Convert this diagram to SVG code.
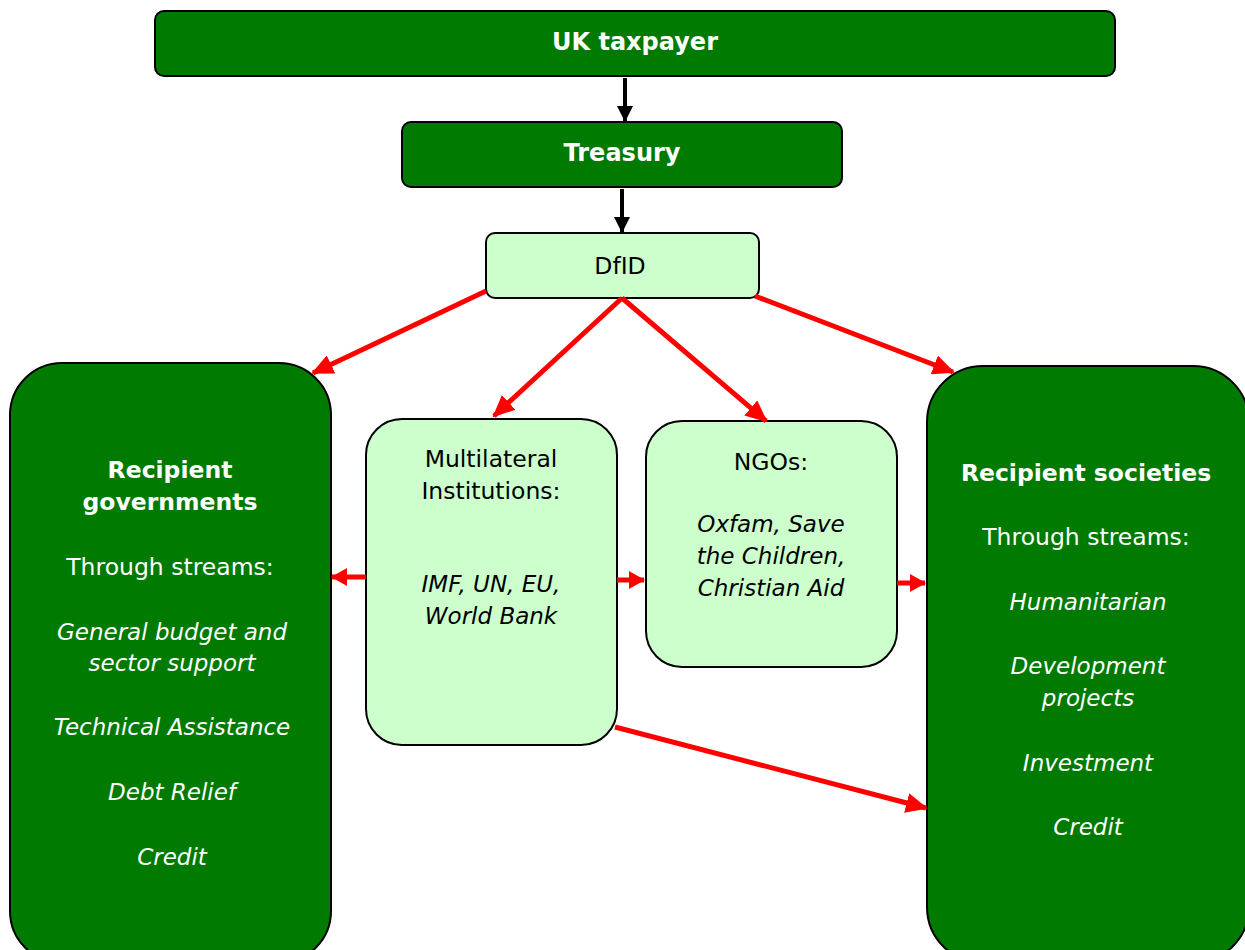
<svg xmlns="http://www.w3.org/2000/svg" width="1245" height="950" viewBox="0 0 1245 950">
<defs>
<style>
.dark{fill:#007A00;stroke:#000;stroke-width:2}
.light{fill:#CCFFCC;stroke:#000;stroke-width:2}
text{font-family:"DejaVu Sans","Liberation Sans",sans-serif;text-anchor:middle;font-size:23.5px}
.w{fill:#fff}
.k{fill:#000}
.b{font-weight:bold}
.i{font-style:italic;font-size:23px}
.red{stroke:#FF0000;stroke-width:5;fill:none}
.blk{stroke:#000;stroke-width:4;fill:none}
</style>
<marker id="rh" markerUnits="userSpaceOnUse" markerWidth="22" markerHeight="20" refX="20" refY="10" orient="auto">
<path d="M0,0 L22,10 L0,20 z" fill="#FF0000"/>
</marker>
<marker id="rs" markerUnits="userSpaceOnUse" markerWidth="16" markerHeight="18" refX="15" refY="9" orient="auto">
<path d="M0,0 L16,9 L0,18 z" fill="#FF0000"/>
</marker>
<marker id="kh" markerUnits="userSpaceOnUse" markerWidth="16" markerHeight="16" refX="15" refY="8" orient="auto">
<path d="M0,0 L16,8 L0,16 z" fill="#000"/>
</marker>
</defs>
<rect width="1245" height="950" fill="#fff"/>

<g id="uk-taxpayer">
<rect class="dark" x="155" y="11" width="960" height="65" rx="9"/>
<text class="w b" x="635" y="50" style="font-size:24px">UK taxpayer</text>
</g>
<g id="treasury">
<rect class="dark" x="402" y="122" width="440" height="65" rx="9"/>
<text class="w b" x="622" y="161" style="font-size:24px">Treasury</text>
</g>
<g id="dfid">
<rect class="light" x="486" y="233" width="273" height="65" rx="9"/>
<text class="k" x="620" y="274">DfID</text>
</g>
<g id="recipient-governments">
<rect class="dark" x="10" y="363" width="321" height="600" rx="52"/>
<text class="w b" x="170" y="478">Recipient</text>
<text class="w b" x="170" y="510">governments</text>
<text class="w" x="170" y="575">Through streams:</text>
<text class="w i" x="172" y="640">General budget and</text>
<text class="w i" x="172" y="671">sector support</text>
<text class="w i" x="172" y="735">Technical Assistance</text>
<text class="w i" x="172" y="800">Debt Relief</text>
<text class="w i" x="172" y="865">Credit</text>
</g>
<g id="multilateral">
<rect class="light" x="366" y="419" width="251" height="326" rx="36"/>
<text class="k" x="491" y="467">Multilateral</text>
<text class="k" x="491" y="499">Institutions:</text>
<text class="k i" x="491" y="592">IMF, UN, EU,</text>
<text class="k i" x="491" y="624">World Bank</text>
</g>
<g id="ngos">
<rect class="light" x="646" y="421" width="251" height="246" rx="36"/>
<text class="k" x="771" y="470">NGOs:</text>
<text class="k i" x="771" y="532">Oxfam, Save</text>
<text class="k i" x="771" y="564">the Children,</text>
<text class="k i" x="771" y="596">Christian Aid</text>
</g>
<g id="recipient-societies">
<rect class="dark" x="927" y="366" width="322" height="597" rx="56"/>
<text class="w b" x="1086" y="481">Recipient societies</text>
<text class="w" x="1086" y="545">Through streams:</text>
<text class="w i" x="1088" y="610">Humanitarian</text>
<text class="w i" x="1088" y="674">Development</text>
<text class="w i" x="1088" y="706">projects</text>
<text class="w i" x="1088" y="771">Investment</text>
<text class="w i" x="1088" y="835">Credit</text>
</g>

<g id="connectors">
<line class="blk" x1="625" y1="78" x2="625" y2="121" marker-end="url(#kh)"/>
<line class="blk" x1="622" y1="189" x2="622" y2="232" marker-end="url(#kh)"/>
<line class="red" x1="486" y1="291" x2="313" y2="373" marker-end="url(#rh)"/>
<line class="red" x1="622" y1="298" x2="494" y2="416" marker-end="url(#rh)"/>
<line class="red" x1="622" y1="298" x2="766" y2="421" marker-end="url(#rh)"/>
<line class="red" x1="755" y1="296" x2="953" y2="372" marker-end="url(#rh)"/>
<line class="red" x1="366" y1="577" x2="332" y2="577" marker-end="url(#rs)"/>
<line class="red" x1="617" y1="580" x2="644" y2="580" marker-end="url(#rs)"/>
<line class="red" x1="897" y1="583" x2="925" y2="583" marker-end="url(#rs)"/>
<line class="red" x1="615" y1="727" x2="926" y2="808" marker-end="url(#rh)"/>
</g>
</svg>
